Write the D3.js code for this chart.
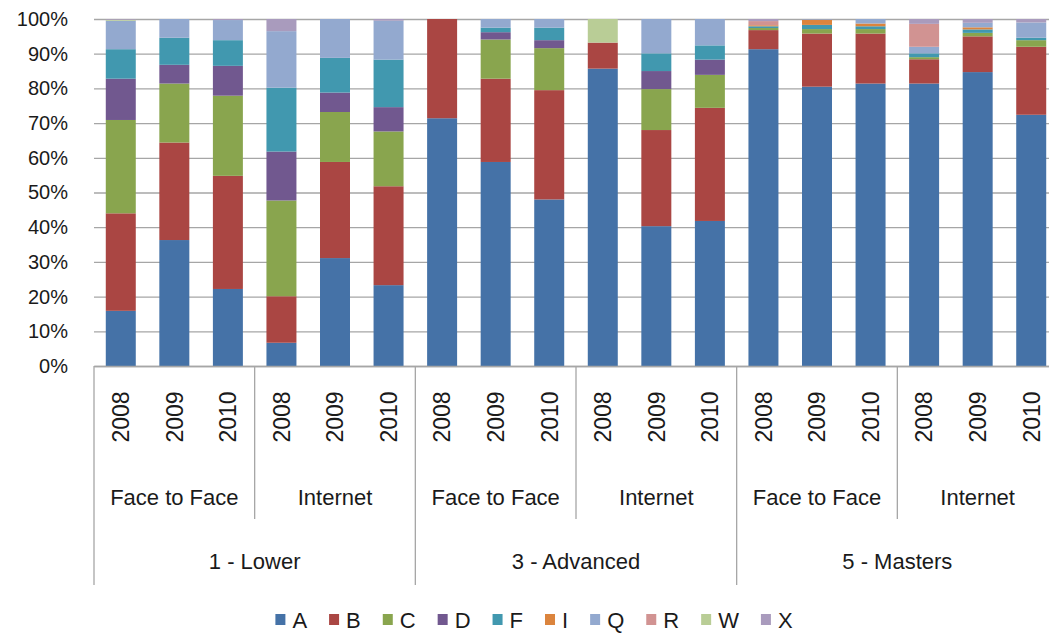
<!DOCTYPE html>
<html lang="en">
<head>
    <meta charset="utf-8" />
    <script src="https://d3js.org/d3.v7.min.js"></script>
    <title>Grades by course type</title>
    <style>
        body { margin: 0; background: #fff; }
        text { font-family: 'Liberation Sans', Arial, sans-serif; fill: #1a1a1a; }
    </style>
</head>
<body>
    <div id="chart"></div>

    <script>
        // bars, left to right
        var years = ["2008", "2009", "2010", "2008", "2009", "2010", "2008", "2009", "2010",
                     "2008", "2009", "2010", "2008", "2009", "2010", "2008", "2009", "2010"];
        var modes = ["Face to Face", "Internet", "Face to Face", "Internet", "Face to Face", "Internet"];
        var levels = ["1 - Lower", "3 - Advanced", "5 - Masters"];

        var keys = ["A", "B", "C", "D", "F", "I", "Q", "R", "W", "X"];
        var colors = ["#4572A7", "#AA4643", "#89A54E", "#71588F", "#4198AF",
                      "#DB843D", "#93A9CF", "#D19392", "#B9CD96", "#A99BBD"];

        // percent of each grade, one value per bar
        var A = [15.9, 36.3, 22.2, 6.7, 31.1, 23.3, 71.4, 58.8, 48.0, 85.7, 40.3, 41.8, 91.3, 80.5, 81.4, 81.4, 84.7, 72.4];
        var B = [28.1, 28.1, 32.6, 13.4, 27.7, 28.5, 28.6, 24.0, 31.5, 7.5, 27.7, 32.6, 5.5, 15.3, 14.4, 7.0, 10.3, 19.6];
        var C = [26.9, 17.0, 23.1, 27.6, 14.4, 15.8, 0, 11.3, 12.1, 0, 11.8, 9.5, 0.6, 1.3, 1.3, 0.6, 1.0, 1.9];
        var D = [11.9, 5.4, 8.6, 14.1, 5.6, 7.0, 0, 2.1, 2.3, 0, 5.2, 4.4, 0, 0, 0, 0, 0, 0];
        var F = [8.5, 7.8, 7.4, 18.4, 10.0, 13.7, 0, 1.3, 3.6, 0, 5.1, 4.1, 0.5, 1.2, 0.8, 1.1, 1.0, 0.7];
        var I = [0, 0, 0, 0, 0, 0, 0, 0, 0, 0, 0, 0, 0.3, 1.5, 0.8, 0, 0.6, 0];
        var Q = [8.2, 5.4, 5.8, 16.3, 11.2, 11.2, 0, 2.5, 2.5, 0, 9.9, 7.6, 0, 0.2, 1.3, 1.9, 1.3, 4.4];
        var R = [0, 0, 0, 0, 0, 0, 0, 0, 0, 0, 0, 0, 1.2, 0, 0, 6.6, 0, 0];
        var W = [0.3, 0, 0, 0, 0, 0, 0, 0, 0, 6.8, 0, 0, 0, 0, 0, 0, 0, 0];
        var X = [0.2, 0, 0.3, 3.5, 0, 0.5, 0, 0, 0, 0, 0, 0, 0.6, 0, 0, 1.4, 1.1, 1.0];

        var yTicks = [0, 10, 20, 30, 40, 50, 60, 70, 80, 90, 100];

        var series = { A: A, B: B, C: C, D: D, F: F, I: I, Q: Q, R: R, W: W, X: X };
        var rows = years.map(function (y, i) {
            var r = { idx: i };
            keys.forEach(function (k) { r[k] = series[k][i]; });
            return r;
        });

        var width = 1049, height = 635;
        var plotLeft = 94, plotRight = 1058, plotTop = 19, plotBottom = 366;

        var svg = d3.select("#chart").append("svg")
            .attr("width", width)
            .attr("height", height);

        var x = d3.scaleBand()
            .domain(d3.range(years.length))
            .range([plotLeft, plotRight])
            .paddingInner(0.44)
            .paddingOuter(0.22);
        var y = d3.scaleLinear().domain([0, 100]).range([plotBottom, plotTop]);
        var color = d3.scaleOrdinal().domain(keys).range(colors);
        var step = (plotRight - plotLeft) / years.length;

        // gridlines
        svg.append("g")
            .attr("transform", "translate(" + plotLeft + ",0)")
            .call(d3.axisLeft(y).tickValues(yTicks).tickSize(-(plotRight - plotLeft)).tickFormat(""))
            .call(function (g) {
                g.select(".domain").remove();
                g.selectAll("line").attr("stroke", "#a6a6a6").attr("stroke-width", 1.3);
            });

        // y labels
        svg.append("g")
            .attr("transform", "translate(" + plotLeft + ",0)")
            .call(d3.axisLeft(y).tickValues(yTicks).tickSize(0).tickPadding(26)
                .tickFormat(function (d) { return d + "%"; }))
            .call(function (g) {
                g.select(".domain").remove();
                g.selectAll("text").style("font-size", "20px").attr("fill", "#1a1a1a");
            });

        var stack = d3.stack().keys(keys);
        svg.append("g").selectAll("g")
            .data(stack(rows))
            .enter().append("g")
            .attr("fill", function (d) { return color(d.key); })
            .selectAll("rect")
            .data(function (d) { return d; })
            .enter().append("rect")
            .attr("x", function (d) { return x(d.data.idx); })
            .attr("width", x.bandwidth())
            .attr("y", function (d) { return y(d[1]); })
            .attr("height", function (d) { return y(d[0]) - y(d[1]); });

        // year labels
        svg.append("g")
            .attr("transform", "translate(0," + plotBottom + ")")
            .call(d3.axisBottom(x).tickSize(0).tickFormat(function (i) { return years[i]; }))
            .call(function (g) {
                g.select(".domain").attr("stroke", "#a6a6a6").attr("stroke-width", 1.3);
                g.selectAll("text")
                    .style("font-size", "23px")
                    .attr("fill", "#1a1a1a")
                    .attr("transform", "rotate(-90)")
                    .attr("x", -51)
                    .attr("y", 0)
                    .attr("dy", "0.36em")
                    .attr("text-anchor", "middle");
            });

        var lines = svg.append("g").attr("stroke", "#a6a6a6").attr("stroke-width", 1.3);
        // dividers between modes and between levels
        d3.range(0, years.length + 1, 3).forEach(function (i) {
            var xx = plotLeft + i * step;
            lines.append("line")
                .attr("x1", xx).attr("x2", xx)
                .attr("y1", plotBottom).attr("y2", i % 6 === 0 ? 585 : 519);
        });

        svg.append("g").selectAll("text")
            .data(modes)
            .enter().append("text")
            .attr("x", function (d, i) { return plotLeft + (i * 3 + 1.5) * step; })
            .attr("y", 497)
            .attr("dy", "0.36em")
            .attr("text-anchor", "middle")
            .style("font-size", "22px")
            .text(function (d) { return d; });

        svg.append("g").selectAll("text")
            .data(levels)
            .enter().append("text")
            .attr("x", function (d, i) { return plotLeft + (i * 6 + 3) * step; })
            .attr("y", 561)
            .attr("dy", "0.36em")
            .attr("text-anchor", "middle")
            .style("font-size", "22px")
            .text(function (d) { return d; });

        // legend
        var legend = svg.append("g");
        var items = legend.selectAll("g")
            .data(keys)
            .enter().append("g");
        items.append("rect")
            .attr("width", 10).attr("height", 11)
            .attr("y", 614)
            .attr("fill", function (d) { return color(d); });
        items.append("text")
            .attr("x", 17)
            .attr("y", 620)
            .attr("dy", "0.36em")
            .style("font-size", "22px")
            .text(function (d) { return d; });

        var pos = 0, offsets = [];
        items.each(function () {
            offsets.push(pos);
            pos += 17 + this.querySelector("text").getComputedTextLength() + 22;
        });
        var total = pos - 22;
        var start = 534 - total / 2;
        items.attr("transform", function (d, i) { return "translate(" + (start + offsets[i]) + ",0)"; });
    </script>
</body>
</html>
